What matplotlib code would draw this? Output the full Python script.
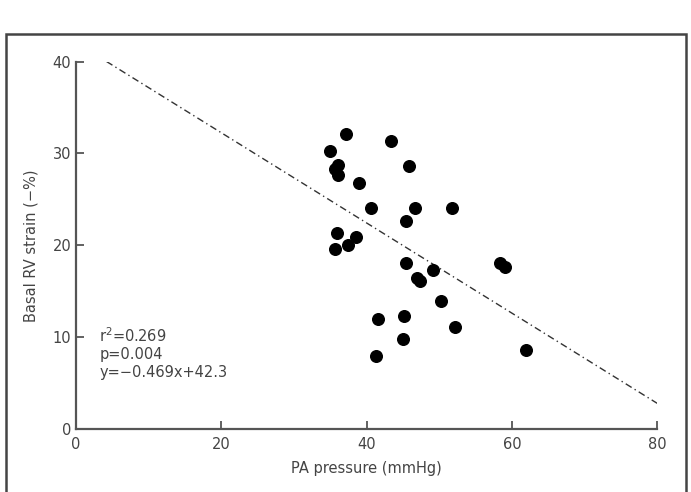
import numpy as np
import matplotlib.pyplot as plt
from matplotlib.patches import Rectangle

# PA pressure (mmHg) and basal RV strain (-%)
pa_pressure = [37.1, 43.3, 35.0, 36.1, 35.7, 36.1, 45.8, 38.9, 40.6, 46.7,
               51.8, 45.4, 35.9, 38.5, 37.5, 35.6, 45.4, 58.4, 59.0, 49.2,
               47.0, 47.4, 50.2, 41.6, 45.1, 52.2, 45.0, 41.3, 61.9]
rv_strain = [32.1, 31.3, 30.3, 28.7, 28.3, 27.6, 28.6, 26.8, 24.1, 24.1,
             24.1, 22.6, 21.3, 20.9, 20.0, 19.6, 18.1, 18.1, 17.6, 17.3,
             16.4, 16.1, 13.9, 12.0, 12.3, 11.1, 9.8, 8.0, 8.6]

# regression line ends as drawn
line_x = [4.2, 80]
line_y = [40.0, 2.8]

stats_text = "r$^2$=0.269\np=0.004\ny=\u22120.469x+42.3"

x_ticks = [0, 20, 40, 60, 80]
y_ticks = [0, 10, 20, 30, 40]

fig = plt.figure(figsize=(6.91, 4.92), dpi=100)
ax = fig.add_axes([0.110, 0.128, 0.841, 0.747])

ax.plot(line_x, line_y, color='#333333', lw=1.0, linestyle=(0, (5, 2.5, 1, 2.5)))
ax.scatter(pa_pressure, rv_strain, s=70, color='black', zorder=3)

ax.set_xlim(0, 80)
ax.set_ylim(0, 40)
ax.set_xticks(x_ticks)
ax.set_yticks(y_ticks)
for s in ['top', 'right']:
    ax.spines[s].set_visible(False)
for s in ['left', 'bottom']:
    ax.spines[s].set_color('#555555')
    ax.spines[s].set_linewidth(1.6)
ax.tick_params(direction='in', length=6, width=1.3, color='#555555',
               labelsize=10.5, labelcolor='#444444')
ax.tick_params(axis='x', pad=6)

ax.set_xlabel("PA pressure (mmHg)", fontsize=10.5, color='#444444', labelpad=6)
ax.set_ylabel("Basal RV strain (\u2212%)", fontsize=10.5, color='#444444', labelpad=10)

ax.text(0.04, 0.28, stats_text, transform=ax.transAxes, fontsize=10.5,
        color='#444444', va='top', linespacing=1.2)

# outer frame, open at the bottom
fig.patches.append(Rectangle((6 / 691, -0.1), 680 / 691, 1.1 - 34 / 492,
                             transform=fig.transFigure, fill=False,
                             edgecolor='#444444', lw=1.8))

fig.savefig("out.png", dpi=100)
